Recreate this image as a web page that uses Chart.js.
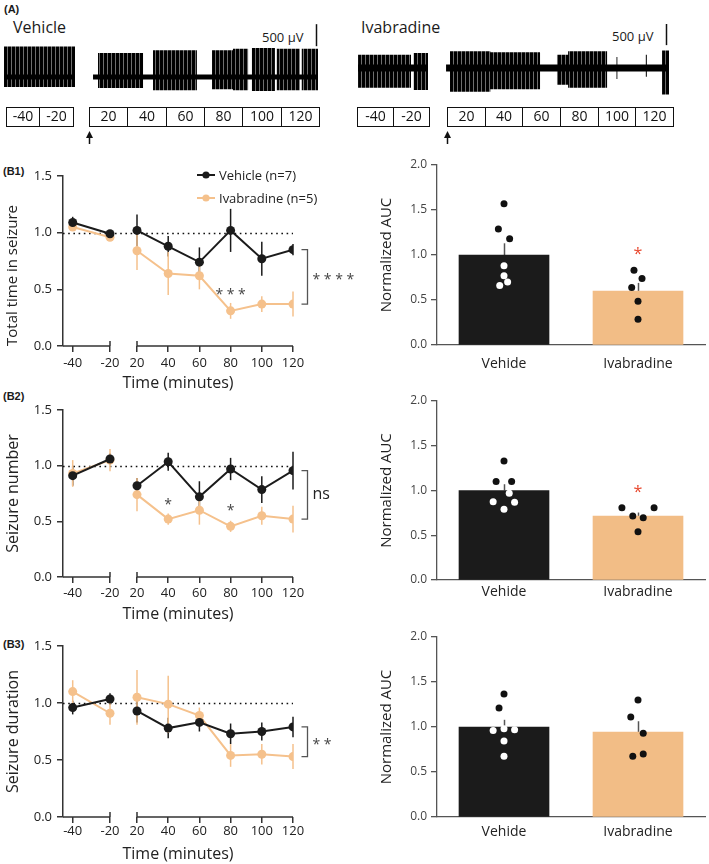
<!DOCTYPE html>
<html>
<head>
<meta charset="utf-8">
<script src="https://cdn.jsdelivr.net/npm/chart.js@4.4.1/dist/chart.umd.min.js"></script>
<style>
html, body { margin: 0; padding: 0; background: #fff; }
#fig { position: relative; width: 709px; height: 864px; overflow: hidden; font-family: 'Open Sans', sans-serif; color: #1a1a1a; }
#fig canvas { position: absolute; }
.lbl { position: absolute; white-space: nowrap; line-height: 1; }
.tag { font-family: 'Liberation Sans', Arial, sans-serif; font-weight: bold; font-size: 11px; }
</style>
</head>
<body>
<div id="fig">
  <div class="lbl tag" style="left:4px;top:4px">(A)</div>
  <div class="lbl" style="left:13px;top:19px;font-size:16px">Vehicle</div>
  <div class="lbl" style="left:361px;top:19px;font-size:16px">Ivabradine</div>
  <div class="lbl" style="left:262px;top:31px;font-size:13px">500 µV</div>
  <div class="lbl" style="left:612px;top:30px;font-size:13px">500 µV</div>
  <div class="lbl tag" style="left:3px;top:166px">(B1)</div>
  <div class="lbl tag" style="left:3px;top:391px">(B2)</div>
  <div class="lbl tag" style="left:3px;top:639px">(B3)</div>

  <canvas id="trVeh" width="340" height="136" style="left:0;top:20px"></canvas>
  <canvas id="trIva" width="355" height="136" style="left:350px;top:20px"></canvas>
  <canvas id="b1L" width="360" height="245" style="left:0;top:150px"></canvas>
  <canvas id="b1R" width="349" height="235" style="left:360px;top:150px"></canvas>
  <canvas id="b2L" width="360" height="241" style="left:0;top:385px"></canvas>
  <canvas id="b2R" width="349" height="235" style="left:360px;top:385px"></canvas>
  <canvas id="b3L" width="360" height="246" style="left:0;top:620px"></canvas>
  <canvas id="b3R" width="349" height="237" style="left:360px;top:620px"></canvas>
</div>

<script>
// ---- data ----
const preTimes = [-40, -20];
const postTimes = [20, 40, 60, 80, 100, 120];
const groups = ['Vehide', 'Ivabradine'];

// B1 total time in seizure (mean, SEM) at -40,-20,20..120
const b1VehMean = [1.09, 0.99, 1.02, 0.88, 0.74, 1.02, 0.77, 0.85];
const b1VehSem = [0.05, 0.03, 0.14, 0.09, 0.13, 0.19, 0.15, 0.05];
const b1IvaMean = [1.05, 0.96, 0.84, 0.64, 0.62, 0.31, 0.37, 0.37];
const b1IvaSem = [0.02, 0.02, 0.17, 0.19, 0.12, 0.07, 0.07, 0.11];

// B2 seizure number
const b2VehMean = [0.91, 1.06, 0.82, 1.035, 0.72, 0.97, 0.785, 0.955];
const b2VehSem = [0.09, 0.05, 0.07, 0.08, 0.14, 0.10, 0.12, 0.17];
const b2IvaMean = [0.93, 1.05, 0.74, 0.52, 0.60, 0.455, 0.55, 0.52];
const b2IvaSem = [0.12, 0.10, 0.15, 0.05, 0.13, 0.05, 0.08, 0.12];

// B3 seizure duration
const b3VehMean = [0.96, 1.035, 0.93, 0.78, 0.83, 0.73, 0.75, 0.79];
const b3VehSem = [0.06, 0.05, 0.10, 0.09, 0.08, 0.09, 0.08, 0.09];
const b3IvaMean = [1.10, 0.91, 1.05, 0.99, 0.89, 0.54, 0.55, 0.53];
const b3IvaSem = [0.10, 0.10, 0.24, 0.25, 0.07, 0.10, 0.09, 0.11];

// normalized AUC bars [vehicle, ivabradine] + individual animals
const b1AucMean = [1.0, 0.60];
const b1AucSem = [0.13, 0.09];
const b1VehDots = [1.57, 1.29, 1.18, 0.88, 0.77, 0.66, 0.70];
const b1VehJit = [0, -0.042, 0.042, 0, 0, -0.032, 0.027];
const b1IvaDots = [0.83, 0.74, 0.64, 0.485, 0.285];
const b1IvaJit = [-0.03, 0.03, -0.047, 0, 0];

const b2AucMean = [1.0, 0.714];
const b2AucSem = [0.07, 0.04];
const b2VehDots = [1.33, 1.10, 1.10, 0.97, 0.874, 0.87, 0.79];
const b2VehJit = [0, -0.059, 0.057, 0.039, -0.081, 0.079, 0];
const b2IvaDots = [0.807, 0.807, 0.714, 0.695, 0.54];
const b2IvaJit = [-0.12, 0.12, -0.039, 0.039, 0];

const b3AucMean = [1.0, 0.944];
const b3AucSem = [0.08, 0.12];
const b3VehDots = [1.367, 1.21, 0.96, 0.98, 0.97, 0.844, 0.674];
const b3VehJit = [0, -0.037, -0.081, 0, 0.079, 0, 0];
const b3IvaDots = [1.30, 1.11, 0.93, 0.70, 0.674];
const b3IvaJit = [0, -0.054, 0.039, 0.039, -0.039];

// EEG traces: bursts as [start min, end min, up µV, down µV]
const vehPreSpan = [-51, -8.8];
const vehPreBursts = [[-51, -8.8, 690, 230]];
const vehPostSpan = [12.1, 129.5];
const vehPostBursts = [[14.7, 38.2, 545, 250], [43.4, 66.3, 610, 300], [74.2, 85.1, 610, 280],
  [85.1, 93.0, 640, 300], [95.0, 107.0, 660, 320], [108.0, 120.0, 640, 300], [121.0, 129.5, 640, 300]];
const ivaPreSpan = [-49.4, -10.5];
const ivaPreBursts = [[-49.4, -20.0, 300, 450], [-18.5, -10.5, 340, 500]];
const ivaPostSpan = [9.5, 127.9];
const ivaPostBursts = [[11.6, 33.0, 380, 540], [33.0, 59.4, 360, 480], [68.4, 74.3, 300, 380],
  [74.3, 95.0, 380, 450], [100.0, 100.6, 250, 250], [115.5, 116.1, 300, 200], [124.2, 127.9, 400, 600]];
const preBoxes = [-40, -20];
const postBoxes = [20, 40, 60, 80, 100, 120];

// ---- style ----
const BLACK = '#1b1b1b';
const ORANGE = '#f5c18c';
const ORANGE_BAR = '#f2bd86';
const RED = '#e8472d';
const AX = '#333';
const AX_R = '#555';

Chart.defaults.font.family = "'Open Sans', sans-serif";
Chart.defaults.color = '#222';

// min/max so that value mA lands on pixel pa and mB on pb inside [left, right]
function spanScale(pa, ma, pb, mb, left, right) {
  const k = (pb - pa) / (mb - ma);
  return { min: ma - (pa - left) / k, max: ma + (right - pa) / k };
}

// ---- EEG traces ----
function stripes() {
  const c = document.createElement('canvas');
  c.width = 4; c.height = 1;
  const g = c.getContext('2d');
  g.fillStyle = '#000'; g.fillRect(0, 0, 3, 1);
  g.fillStyle = '#6e6e6e'; g.fillRect(3, 0, 1, 1);
  return g.createPattern(c, 'repeat');
}
const stripePattern = stripes();

function envelope(bursts, sign) {
  const pts = [];
  bursts.forEach(([a, b, up, dn]) => {
    const v = sign > 0 ? up : -dn;
    pts.push({ x: a, y: 0 }, { x: a, y: v }, { x: b, y: v }, { x: b, y: 0 });
  });
  return pts;
}

function band(span, half) {
  return [{ x: span[0], y: half }, { x: span[1], y: half }];
}

const traceExtras = {
  id: 'traceExtras',
  afterDraw(chart, args, o) {
    const { ctx, chartArea: ca, scales: { xPre, xPost, y } } = chart;
    ctx.save();
    ctx.strokeStyle = '#111';
    ctx.lineWidth = 1;
    ctx.fillStyle = '#111';
    ctx.font = "14px 'Open Sans', sans-serif";
    ctx.textAlign = 'center';
    ctx.textBaseline = 'middle';
    const top = ca.bottom + 11, h = 19;
    [[xPre, preBoxes], [xPost, postBoxes]].forEach(([sc, labels]) => {
      labels.forEach(v => {
        const a = Math.round(sc.getPixelForValue(v - 10)) + 0.5;
        const b = Math.round(sc.getPixelForValue(v + 10)) + 0.5;
        ctx.strokeRect(a, top + 0.5, b - a, h);
        ctx.fillText(String(v), (a + b) / 2, top + h / 2 + 1);
      });
    });
    // arrow at drug injection (time 10)
    const ax = Math.round(xPost.getPixelForValue(10)) + 0.5;
    ctx.lineWidth = 1.5;
    ctx.beginPath();
    ctx.moveTo(ax, ca.bottom + 48); ctx.lineTo(ax, ca.bottom + 38); ctx.stroke();
    ctx.beginPath();
    ctx.moveTo(ax, ca.bottom + 35); ctx.lineTo(ax - 3.5, ca.bottom + 42); ctx.lineTo(ax + 3.5, ca.bottom + 42);
    ctx.closePath(); ctx.fill();
    // 500 µV scale bar
    const sx = Math.round(xPost.getPixelForValue(o.bar.t)) + 0.5;
    ctx.lineWidth = 1.5;
    ctx.beginPath();
    ctx.moveTo(sx, y.getPixelForValue(o.bar.lo)); ctx.lineTo(sx, y.getPixelForValue(o.bar.hi)); ctx.stroke();
    ctx.restore();
  }
};

function traceChart(id, cfg) {
  const lineDs = (data, axis, fill, color) => ({
    data, xAxisID: axis, yAxisID: 'y', fill, backgroundColor: color,
    borderWidth: 0, pointRadius: 0, tension: 0
  });
  return new Chart(document.getElementById(id), {
    type: 'line',
    data: {
      datasets: [
        lineDs(band(cfg.preSpan, cfg.base), 'xPre', '+1', '#000'),
        lineDs(band(cfg.preSpan, -cfg.base), 'xPre', false, '#000'),
        lineDs(band(cfg.postSpan, cfg.base), 'xPost', '+1', '#000'),
        lineDs(band(cfg.postSpan, -cfg.base), 'xPost', false, '#000'),
        lineDs(envelope(cfg.preBursts, 1), 'xPre', '+1', stripePattern),
        lineDs(envelope(cfg.preBursts, -1), 'xPre', false, stripePattern),
        lineDs(envelope(cfg.postBursts, 1), 'xPost', '+1', stripePattern),
        lineDs(envelope(cfg.postBursts, -1), 'xPost', false, stripePattern)
      ]
    },
    options: {
      responsive: false,
      animation: false,
      events: [],
      layout: { padding: { top: 0, left: 0, right: 0, bottom: 60 } },
      plugins: { legend: { display: false }, tooltip: { enabled: false }, traceExtras: { bar: cfg.bar } },
      scales: {
        xPre: { type: 'linear', display: false, ...cfg.pre },
        xPost: { type: 'linear', display: false, ...cfg.post },
        y: { type: 'linear', display: false, min: cfg.yMin, max: cfg.yMax }
      }
    },
    plugins: [traceExtras]
  });
}

traceChart('trVeh', {
  preSpan: vehPreSpan, postSpan: vehPostSpan, preBursts: vehPreBursts, postBursts: vehPostBursts,
  base: 55, yMin: -432, yMax: 1295,
  pre: spanScale(5.7, -50, 73, -10, 0, 340),
  post: spanScale(89, 10, 319, 130, 0, 340),
  bar: { t: 128.4, lo: 700, hi: 1200 }
});
traceChart('trIva', {
  preSpan: ivaPreSpan, postSpan: ivaPostSpan, preBursts: ivaPreBursts, postBursts: ivaPostBursts,
  base: 80, yMin: -636, yMax: 1091,
  pre: spanScale(7, -50, 79, -10, 0, 355),
  post: spanScale(97, 10, 323, 130, 0, 355),
  bar: { t: 126.3, lo: 520, hi: 1000 }
});

// ---- time course charts ----
const preRange = spanScale(72.7, -40, 110, -20, 63, 293);
const postRange = spanScale(137, 20, 293, 120, 63, 293);

function series(times, means, sems, from, color, axis, order) {
  return {
    data: times.map((t, i) => ({ x: t, y: means[from + i] })),
    sem: sems.slice(from, from + times.length),
    xAxisID: axis, yAxisID: 'y',
    borderColor: color, backgroundColor: color,
    borderWidth: 2, pointRadius: 4.5, pointBorderWidth: 0, tension: 0, order
  };
}

function drawStar(ctx, text, x, y, size, color) {
  ctx.font = size + "px 'Open Sans', sans-serif";
  ctx.fillStyle = color;
  ctx.textAlign = 'center';
  ctx.textBaseline = 'middle';
  ctx.fillText(text, x, y + size * 0.25);
}

const lineExtras = {
  id: 'lineExtras',
  beforeDatasetsDraw(chart, args, o) {
    const { ctx, chartArea: ca, scales: { xPre, xPost, y } } = chart;
    ctx.save();
    // dotted baseline at 1.0
    const y1 = Math.round(y.getPixelForValue(1)) + 0.5;
    ctx.strokeStyle = '#111';
    ctx.lineWidth = 1.6;
    ctx.setLineDash([1.6, 3.6]);
    ctx.beginPath();
    ctx.moveTo(ca.left, y1);
    ctx.lineTo(xPost.getPixelForValue(postTimes[postTimes.length - 1]), y1);
    ctx.stroke();
    ctx.setLineDash([]);
    // SEM bars
    chart.data.datasets.forEach((ds, i) => {
      const meta = chart.getDatasetMeta(i);
      ctx.strokeStyle = ds.borderColor;
      ctx.lineWidth = 1.5;
      meta.data.forEach((pt, j) => {
        const m = ds.data[j].y, s = ds.sem[j];
        ctx.beginPath();
        ctx.moveTo(pt.x, y.getPixelForValue(m - s));
        ctx.lineTo(pt.x, y.getPixelForValue(m + s));
        ctx.stroke();
      });
    });
    // broken x axis
    const yb = ca.bottom;
    const a = xPre.getPixelForValue(preTimes[preTimes.length - 1]);
    const b = xPost.getPixelForValue(postTimes[0]);
    ctx.strokeStyle = AX;
    ctx.lineWidth = 1.5;
    ctx.beginPath();
    ctx.moveTo(ca.left, yb); ctx.lineTo(a, yb);
    ctx.moveTo(b, yb); ctx.lineTo(xPost.getPixelForValue(postTimes[postTimes.length - 1]), yb);
    ctx.moveTo(a, yb - 5); ctx.lineTo(a, yb);
    ctx.moveTo(b, yb - 5); ctx.lineTo(b, yb);
    ctx.stroke();
    ctx.restore();
  },
  afterDraw(chart, args, o) {
    const { ctx, scales: { xPost, y } } = chart;
    ctx.save();
    if (o.legend) {
      [[BLACK, 'Vehicle (n=7)', 25], [ORANGE, 'Ivabradine (n=5)', 48]].forEach(([c, t, ly]) => {
        ctx.strokeStyle = c; ctx.fillStyle = c; ctx.lineWidth = 2;
        ctx.beginPath(); ctx.moveTo(197, ly); ctx.lineTo(215, ly); ctx.stroke();
        ctx.beginPath(); ctx.arc(206, ly, 3.6, 0, Math.PI * 2); ctx.fill();
        ctx.fillStyle = '#222';
        ctx.font = "13px 'Open Sans', sans-serif";
        ctx.textAlign = 'left'; ctx.textBaseline = 'middle';
        ctx.fillText(t, 219, ly + 1);
      });
    }
    (o.stars || []).forEach(s => drawStar(ctx, s.text, xPost.getPixelForValue(s.t), y.getPixelForValue(s.y), 14, '#444'));
    // bracket between last points
    const last = postTimes[postTimes.length - 1];
    const bx = Math.round(xPost.getPixelForValue(last) + 14) + 0.5;
    const ya = y.getPixelForValue(o.bracket.from), yz = y.getPixelForValue(o.bracket.to);
    ctx.strokeStyle = AX_R; ctx.lineWidth = 1.3;
    ctx.beginPath();
    ctx.moveTo(bx - 6, ya); ctx.lineTo(bx, ya); ctx.lineTo(bx, yz); ctx.lineTo(bx - 6, yz);
    ctx.stroke();
    if (o.bracket.text === 'ns') {
      ctx.font = "16px 'Open Sans', sans-serif";
      ctx.fillStyle = '#222'; ctx.textAlign = 'left'; ctx.textBaseline = 'middle';
      ctx.fillText('ns', bx + 5, (ya + yz) / 2);
    } else {
      ctx.font = "14px 'Open Sans', sans-serif";
      ctx.fillStyle = '#444'; ctx.textAlign = 'left'; ctx.textBaseline = 'middle';
      ctx.fillText(o.bracket.text, bx + 5, (ya + yz) / 2 + 3.5);
    }
    ctx.restore();
  }
};

function timeChart(id, cfg) {
  const tickFont = { size: 13 };
  return new Chart(document.getElementById(id), {
    type: 'line',
    data: {
      datasets: [
        series(preTimes, cfg.veh, cfg.vehSem, 0, BLACK, 'xPre', 0),
        series(postTimes, cfg.veh, cfg.vehSem, 2, BLACK, 'xPost', 0),
        series(preTimes, cfg.iva, cfg.ivaSem, 0, ORANGE, 'xPre', 1),
        series(postTimes, cfg.iva, cfg.ivaSem, 2, ORANGE, 'xPost', 1)
      ]
    },
    options: {
      responsive: false,
      animation: false,
      events: [],
      layout: { padding: { top: cfg.padTop, right: 67, left: 0, bottom: 0 } },
      plugins: {
        legend: { display: false }, tooltip: { enabled: false },
        lineExtras: { legend: cfg.legend, stars: cfg.stars, bracket: cfg.bracket }
      },
      scales: {
        xPost: {
          type: 'linear', position: 'bottom', ...postRange,
          afterBuildTicks: s => { s.ticks = postTimes.map(v => ({ value: v })); },
          afterFit: s => { s.height = 49; },
          grid: { drawOnChartArea: false, tickLength: 6, color: AX, lineWidth: 1.5 },
          border: { display: false },
          ticks: { font: tickFont, color: '#222', padding: cfg.tickPad },
          title: { display: true, text: 'Time (minutes)', font: { size: 16 }, color: '#222', padding: { top: 0, bottom: 2 } }
        },
        xPre: {
          type: 'linear', position: { y: 0 }, ...preRange,
          afterBuildTicks: s => { s.ticks = preTimes.map(v => ({ value: v })); },
          afterFit: s => { s.height = 0; },
          grid: { drawOnChartArea: false, tickLength: 6, color: AX, lineWidth: 1.5 },
          border: { display: false },
          ticks: { font: tickFont, color: '#222', padding: cfg.tickPad }
        },
        y: {
          type: 'linear', position: 'left', min: 0, max: 1.5,
          afterFit: s => { s.width = 63; },
          ticks: { stepSize: 0.5, callback: v => v.toFixed(1), font: tickFont, color: '#222', padding: 5 },
          grid: { drawOnChartArea: false, tickLength: 6, color: AX, lineWidth: 1.5 },
          border: { color: AX, width: 1.5 },
          title: { display: true, text: cfg.yTitle, font: { size: cfg.titleSize }, color: '#222', align: cfg.titleAlign, padding: { top: 4, bottom: 0 } }
        }
      }
    },
    plugins: [lineExtras]
  });
}

timeChart('b1L', {
  veh: b1VehMean, vehSem: b1VehSem, iva: b1IvaMean, ivaSem: b1IvaSem,
  padTop: 26, tickPad: 3, yTitle: 'Total time in seizure', titleAlign: 'start', titleSize: 15, legend: true,
  stars: [{ t: 80, y: 0.477, text: '* * *' }],
  bracket: { from: b1VehMean[7], to: b1IvaMean[7], text: '* * * *' }
});
timeChart('b2L', {
  veh: b2VehMean, vehSem: b2VehSem, iva: b2IvaMean, ivaSem: b2IvaSem,
  padTop: 25, tickPad: 2, yTitle: 'Seizure number', titleAlign: 'center', titleSize: 16, legend: false,
  stars: [{ t: 40, y: 0.674, text: '*' }, { t: 80, y: 0.62, text: '*' }],
  bracket: { from: b2VehMean[7], to: b2IvaMean[7], text: 'ns' }
});
timeChart('b3L', {
  veh: b3VehMean, vehSem: b3VehSem, iva: b3IvaMean, ivaSem: b3IvaSem,
  padTop: 26, tickPad: 0, yTitle: 'Seizure duration', titleAlign: 'center', titleSize: 16, legend: false,
  stars: [],
  bracket: { from: b3VehMean[7], to: b3IvaMean[7], text: '* *' }
});

// ---- AUC bar charts ----
const barExtras = {
  id: 'barExtras',
  beforeDatasetsDraw(chart, args, o) {
    const { ctx, scales: { x, y } } = chart;
    ctx.save();
    ctx.strokeStyle = AX_R;
    ctx.lineWidth = 1.5;
    o.mean.forEach((m, i) => {
      const px = Math.round(x.getPixelForValue(i)) + 0.5;
      ctx.beginPath();
      ctx.moveTo(px, y.getPixelForValue(m));
      ctx.lineTo(px, y.getPixelForValue(m + o.sem[i]));
      ctx.stroke();
    });
    ctx.restore();
  },
  afterDraw(chart, args, o) {
    if (o.star == null) return;
    const { ctx, scales: { x, y } } = chart;
    ctx.save();
    drawStar(ctx, '*', x.getPixelForValue(1), y.getPixelForValue(o.star), 16, RED);
    ctx.restore();
  }
};

function aucChart(id, cfg) {
  const dots = cfg.vehDots.map((v, k) => ({ x: 0 + cfg.vehJit[k], y: v }))
    .concat(cfg.ivaDots.map((v, k) => ({ x: 1 + cfg.ivaJit[k], y: v })));
  return new Chart(document.getElementById(id), {
    type: 'bar',
    data: {
      labels: groups,
      datasets: [
        {
          type: 'scatter', xAxisID: 'xj', yAxisID: 'y', data: dots, order: 0,
          pointRadius: 3.5, pointBorderWidth: 0,
          pointBackgroundColor: c => (c.raw && c.raw.x < 0.5 && c.raw.y < cfg.mean[0]) ? '#fff' : '#111'
        },
        {
          type: 'bar', data: cfg.mean, order: 1, grouped: false,
          backgroundColor: [BLACK, ORANGE_BAR], borderWidth: 0, barThickness: 90
        }
      ]
    },
    options: {
      responsive: false,
      animation: false,
      events: [],
      layout: { padding: { top: cfg.padTop, right: 1, left: 0, bottom: 0 } },
      plugins: {
        legend: { display: false }, tooltip: { enabled: false },
        barExtras: { mean: cfg.mean, sem: cfg.sem, star: cfg.star }
      },
      scales: {
        x: {
          type: 'category', offset: true,
          afterFit: s => { s.height = 40; },
          grid: { display: false, drawTicks: false },
          border: { color: AX_R, width: 1.3 },
          ticks: { font: { size: 14 }, color: '#222', padding: cfg.labelPad }
        },
        xj: { type: 'linear', display: false, offset: false, grid: { offset: false }, min: -0.5, max: 1.5 },
        y: {
          type: 'linear', min: 0, max: 2,
          afterFit: s => { s.width = 77; },
          ticks: { stepSize: 0.5, callback: v => v.toFixed(1), font: { size: 12 }, color: '#444', padding: 4 },
          grid: { drawOnChartArea: false, tickLength: 6, color: AX_R, lineWidth: 1.3 },
          border: { color: AX_R, width: 1.3 },
          title: { display: true, text: 'Normalized AUC', font: { size: 15 }, color: '#222', padding: { top: 18, bottom: 0 } }
        }
      }
    },
    plugins: [barExtras]
  });
}

aucChart('b1R', {
  mean: b1AucMean, sem: b1AucSem, vehDots: b1VehDots, vehJit: b1VehJit, ivaDots: b1IvaDots, ivaJit: b1IvaJit,
  padTop: 15, labelPad: 11, star: 1.05
});
aucChart('b2R', {
  mean: b2AucMean, sem: b2AucSem, vehDots: b2VehDots, vehJit: b2VehJit, ivaDots: b2IvaDots, ivaJit: b2IvaJit,
  padTop: 16, labelPad: 4, star: 1.02
});
aucChart('b3R', {
  mean: b3AucMean, sem: b3AucSem, vehDots: b3VehDots, vehJit: b3VehJit, ivaDots: b3IvaDots, ivaJit: b3IvaJit,
  padTop: 17, labelPad: 7, star: null
});
</script>
</body>
</html>
